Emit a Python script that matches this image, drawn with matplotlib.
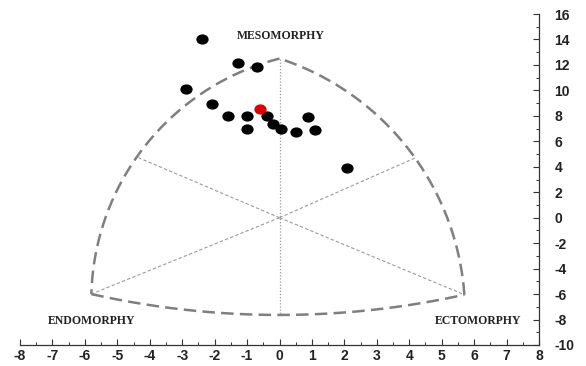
import numpy as np
import matplotlib
matplotlib.use("Agg")
import matplotlib.pyplot as plt
from matplotlib.path import Path
from matplotlib.markers import MarkerStyle
from matplotlib.ticker import MultipleLocator
import matplotlib.transforms as mtransforms

plt.rcParams["axes.unicode_minus"] = False

# Somatotype points (X, Y)
pts_x = [-2.40, -1.29, -0.70, -2.89, -2.09, -1.60, -0.99, -0.40, -0.19, 0.04, -0.99, 0.50, 0.89, 1.10, 2.09]
pts_y = [14.04, 12.13, 11.86, 10.11, 8.91, 8.01, 8.01, 8.01, 7.38, 6.97, 6.97, 6.71, 7.91, 6.91, 3.88]
mean_x = [-0.60]
mean_y = [8.54]

# Somatochart outline vertices
meso_apex = (0.0, 12.5)
endo_apex = (-5.8, -6.0)
ecto_apex = (5.7, -6.05)
left_arc_mid = (-4.4, 4.77)
right_arc_mid = (4.18, 4.69)
bottom_arc_mid = (0.0, -7.64)

x_ticks = list(range(-8, 9))
y_ticks = list(range(-10, 17, 2))

SX, SY = 32.4, 12.73  # display scale for circle fit


def arc(p0, pm, p1, n=200):
    a = np.array([p0[0] * SX, p0[1] * SY])
    b = np.array([pm[0] * SX, pm[1] * SY])
    c = np.array([p1[0] * SX, p1[1] * SY])
    d = 2 * (a[0] * (b[1] - c[1]) + b[0] * (c[1] - a[1]) + c[0] * (a[1] - b[1]))
    ux = ((a @ a) * (b[1] - c[1]) + (b @ b) * (c[1] - a[1]) + (c @ c) * (a[1] - b[1])) / d
    uy = ((a @ a) * (c[0] - b[0]) + (b @ b) * (a[0] - c[0]) + (c @ c) * (b[0] - a[0])) / d
    r = np.hypot(a[0] - ux, a[1] - uy)
    ta = np.arctan2(a[1] - uy, a[0] - ux)
    tb = np.arctan2(b[1] - uy, b[0] - ux)
    tc = np.arctan2(c[1] - uy, c[0] - ux)

    def norm(t):
        return t % (2 * np.pi)
    ccw_c = norm(tc - ta)
    ccw_b = norm(tb - ta)
    if ccw_b <= ccw_c:
        ts = ta + np.linspace(0, ccw_c, n)
    else:
        ts = ta - np.linspace(0, 2 * np.pi - ccw_c, n)
    return (ux + r * np.cos(ts)) / SX, (uy + r * np.sin(ts)) / SY


fig = plt.figure(figsize=(5.86, 3.66), dpi=100)
ax = fig.add_axes([20 / 586, 21 / 366, 519 / 586, 331 / 366])
ax.set_xlim(-8, 8)
ax.set_ylim(-10, 16)

gray = "#7f7f7f"
lgray = "#9a9a9a"
dash = (0, (5, 2.5))
for p0, pm, p1 in [(meso_apex, left_arc_mid, endo_apex),
                   (endo_apex, bottom_arc_mid, ecto_apex),
                   (ecto_apex, right_arc_mid, meso_apex)]:
    xs, ys = arc(p0, pm, p1)
    ax.plot(xs, ys, color=gray, lw=1.8, linestyle=dash, zorder=2)

for p in [left_arc_mid, right_arc_mid, endo_apex, ecto_apex]:
    ax.plot([0, p[0]], [0, p[1]], color=lgray, lw=0.8, linestyle=(0, (3, 2)), zorder=1)
ax.plot([0, 0], [meso_apex[1], bottom_arc_mid[1]], color=lgray, lw=0.9,
        linestyle=(0, (1, 1.5)), zorder=1)

circ = Path.unit_circle()
emarker = MarkerStyle(circ.transformed(mtransforms.Affine2D().scale(1.2, 1.0)))
ax.scatter(pts_x, pts_y, s=78, marker=emarker, color="black", zorder=4, linewidths=0)
ax.scatter(mean_x, mean_y, s=78, marker=emarker, color="#e00000", zorder=4, linewidths=0)

serif = ["Liberation Serif", "DejaVu Serif"]
ax.text(0.05, 14.3, "MESOMORPHY", family=serif, weight="bold", fontsize=8.5,
        ha="center", va="center", color="#222222")
ax.text(-5.8, -8.1, "ENDOMORPHY", family=serif, weight="bold", fontsize=8.5,
        ha="center", va="center", color="#222222")
ax.text(6.13, -8.1, "ECTOMORPHY", family=serif, weight="bold", fontsize=8.5,
        ha="center", va="center", color="#222222")

for s in ["top", "left"]:
    ax.spines[s].set_visible(False)
for s in ["bottom", "right"]:
    ax.spines[s].set_linewidth(0.9)
    ax.spines[s].set_color("#333333")

ax.yaxis.tick_right()
ax.set_xticks(x_ticks)
ax.set_yticks(y_ticks)
ax.xaxis.set_minor_locator(MultipleLocator(0.5))
ax.yaxis.set_minor_locator(MultipleLocator(1))
ax.tick_params(axis="x", which="major", direction="in", length=4, width=0.8, pad=3,
               labelsize=10, colors="#333333")
ax.tick_params(axis="x", which="minor", direction="in", length=2.5, width=0.7, colors="#333333")
ax.tick_params(axis="y", which="major", direction="in", length=4, width=0.8, pad=11,
               labelsize=10, colors="#333333")
ax.tick_params(axis="y", which="minor", direction="in", length=2.5, width=0.7, colors="#333333")
for lab in ax.get_xticklabels() + ax.get_yticklabels():
    lab.set_fontfamily(["Liberation Sans", "DejaVu Sans"])
    lab.set_fontweight("bold")
    lab.set_color("#222222")

fig.savefig("out.png", dpi=100)
